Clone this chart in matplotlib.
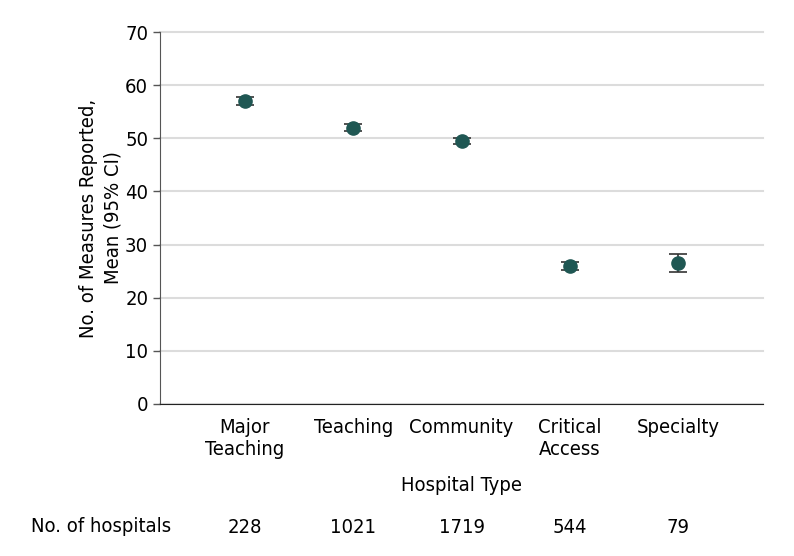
import numpy as np
import matplotlib.pyplot as plt

plt.rcParams['font.family'] = ['DejaVu Sans']
plt.rcParams['font.stretch'] = 'condensed'

hospital_types = ['Major\nTeaching', 'Teaching', 'Community', 'Critical\nAccess', 'Specialty']
mean_measures = [57.0, 52.0, 49.5, 26.0, 26.5]
ci_lower = [56.3, 51.3, 48.9, 25.2, 24.8]
ci_upper = [57.7, 52.7, 50.1, 26.8, 28.3]
n_hospitals = [228, 1021, 1719, 544, 79]

fig = plt.figure(figsize=(7.94, 5.56), dpi=100)
ax = fig.add_axes([0.2015, 0.2734, 0.7595, 0.669])

x = np.arange(len(hospital_types))
mean = np.array(mean_measures)
yerr = [mean - np.array(ci_lower), np.array(ci_upper) - mean]

ax.errorbar(x, mean, yerr=yerr, fmt='o', color='#1f5753', ecolor='#333333',
            markersize=9.5, capsize=6.5, elinewidth=1.2, capthick=1.2, zorder=3)

ax.set_ylim(0, 70)
ax.set_yticks(range(0, 71, 10))
ax.set_xlim(-0.785, len(hospital_types) - 1 + 0.785)
ax.set_xticks(x)
ax.set_xticklabels(hospital_types, fontsize=14.5, linespacing=1.2)
ax.tick_params(axis='x', length=0, pad=10)
ax.tick_params(axis='y', labelsize=14.5, length=5, color='#555555', width=1)
ax.yaxis.grid(True, color='#dcdcdc', linewidth=1.5)
for gl in ax.get_ygridlines():
    gl.set_clip_on(False)
ax.set_axisbelow(True)

for side in ['top', 'right']:
    ax.spines[side].set_visible(False)
ax.spines['left'].set_color('#555555')
ax.spines['bottom'].set_color('#222222')

ax.set_ylabel('No. of Measures Reported,\nMean (95% CI)', fontsize=14.5,
              labelpad=2, linespacing=1.35)
ax.set_xlabel('Hospital Type', fontsize=14.5, labelpad=12)

# hospital counts row below the axis
for xi, n in zip(x, n_hospitals):
    ax.text(xi, -23.2, str(n), ha='center', va='center', fontsize=14.5, clip_on=False)
fig.text(31 / 794, 1 - 527 / 556, 'No. of hospitals', ha='left', va='center', fontsize=14.5)

fig.savefig('out.png', dpi=100)
